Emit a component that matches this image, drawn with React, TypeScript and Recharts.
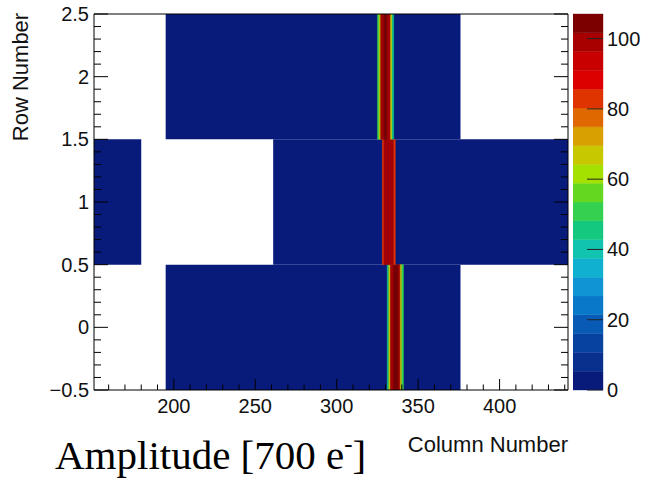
import { ComposedChart, XAxis, YAxis, ReferenceArea, Scatter } from 'recharts';

// pixel rows of the sensor, column ranges that read out (quiet level ~1)
const rows = [0, 1, 2];
const rowSpans: number[][][] = [
  [[195, 375]],
  [[151, 179], [261, 441]],
  [[195, 375]],
];
const quietValue = 1;

// the hit track, one list of amplitudes per row
const stripeStart = [331, 328, 325];
const stripeValues = [
  [45, 66, 97, 100, 104, 105, 103, 98, 68, 50],
  [83, 99, 101, 100, 100, 101, 99, 84],
  [52, 66, 97, 100, 103, 103, 100, 97, 67, 47],
];

const xDomain = [151, 442];
const yDomain = [-0.5, 2.5];
const xMajor = [200, 250, 300, 350, 400];
const zTicks = [0, 20, 40, 60, 80, 100];
const zMax = 107;

const palette = [
  '#081b7b', '#08308c', '#0842a0', '#085ab4', '#0a78c8',
  '#1094d4', '#10b0d0', '#10c4b0', '#14c880', '#34d050',
  '#64d820', '#a4e000', '#c8c800', '#d8a000', '#e06800',
  '#e03400', '#dc0000', '#c80000', '#a80000', '#7c0000',
];

const FONT = '"Liberation Sans", Arial, sans-serif';

const xTicks: number[] = [];
for (let v = 160; v <= 440; v += 10) xTicks.push(v);
const yTicks: number[] = [];
for (let i = 0; i <= 30; i++) yTicks.push(Math.round((-0.5 + i * 0.1) * 10) / 10);

const bandWidth = zMax / palette.length;
const levels = palette.map((_, i) => i * bandWidth).concat([zMax]);
const colorOf = (z: number) => palette[Math.max(0, Math.min(palette.length - 1, Math.floor(z / bandWidth)))];

const cells = rows.flatMap((r) =>
  stripeValues[r].map((z, i) => ({ col: stripeStart[r] + i, row: r, z }))
);

const isYMajor = (v: number) => Math.abs(v * 2 - Math.round(v * 2)) < 1e-6;
const fmtY = (v: number) => (v < 0 ? '\u2212' + Math.abs(v) : String(v));

const BottomTick = ({ x, payload }: any) => {
  const major = xMajor.includes(payload.value);
  return (
    <g>
      <line x1={x} y1={390} x2={x} y2={390 - (major ? 11 : 5.5)} stroke="#000" />
      {major && (
        <text x={x} y={413} textAnchor="middle" fontSize={20} fontFamily={FONT} fill="#111">
          {payload.value}
        </text>
      )}
    </g>
  );
};

const TopTick = ({ x, payload }: any) => {
  const major = xMajor.includes(payload.value);
  return <line x1={x} y1={14} x2={x} y2={14 + (major ? 11 : 5.5)} stroke="#000" />;
};

const LeftTick = ({ y, payload }: any) => {
  const major = isYMajor(payload.value);
  return (
    <g>
      <line x1={94} y1={y} x2={94 + (major ? 14 : 7)} y2={y} stroke="#000" />
      {major && (
        <text x={89} y={y + 7} textAnchor="end" fontSize={20} fontFamily={FONT} fill="#111">
          {fmtY(payload.value)}
        </text>
      )}
    </g>
  );
};

const RightTick = ({ y, payload }: any) => {
  const major = isYMajor(payload.value);
  return <line x1={568} y1={y} x2={568 - (major ? 14 : 7)} y2={y} stroke="#000" />;
};

const ZTick = ({ y, payload }: any) => (
  <g>
    <line x1={14} y1={y} x2={30} y2={y} stroke="#222" />
    <text x={34} y={y + 7} textAnchor="start" fontSize={20} fontFamily={FONT} fill="#111">
      {payload.value}
    </text>
  </g>
);

export default function App() {
  return (
    <div style={{ position: 'absolute', left: 0, top: 0, width: 645, height: 479, background: '#fff' }}>
      <div style={{ position: 'absolute', left: 0, top: 0 }}>
        <ComposedChart width={645} height={479} margin={{ top: 4, right: 67, bottom: 79, left: 84 }}>
          <XAxis
            xAxisId="b" type="number" dataKey="col" domain={xDomain} allowDataOverflow
            ticks={xTicks} interval={0} tick={<BottomTick />} tickLine={false}
            tickSize={0} tickMargin={0} height={10} stroke="#000"
          />
          <XAxis
            xAxisId="t" orientation="top" type="number" domain={xDomain} allowDataOverflow
            ticks={xTicks} interval={0} tick={<TopTick />} tickLine={false}
            tickSize={0} tickMargin={0} height={10} stroke="#000"
          />
          <YAxis
            yAxisId="l" type="number" dataKey="row" domain={yDomain} allowDataOverflow
            ticks={yTicks} interval={0} tick={<LeftTick />} tickLine={false}
            tickSize={0} tickMargin={0} width={10} stroke="#000"
          />
          <YAxis
            yAxisId="r" orientation="right" type="number" domain={yDomain} allowDataOverflow
            ticks={yTicks} interval={0} tick={<RightTick />} tickLine={false}
            tickSize={0} tickMargin={0} width={10} stroke="#000"
          />
          {rows.flatMap((r) =>
            rowSpans[r].map(([a, b], k) => (
              <ReferenceArea
                key={`span-${r}-${k}`} xAxisId="b" yAxisId="l"
                x1={a} x2={b + 1} y1={r - 0.5} y2={r + 0.5}
                fill={colorOf(quietValue)} fillOpacity={1} stroke="none" ifOverflow="hidden"
              />
            ))
          )}
          {cells.map((c, i) => (
            <ReferenceArea
              key={`cell-${i}`} xAxisId="b" yAxisId="l"
              x1={c.col} x2={c.col + 1} y1={c.row - 0.5} y2={c.row + 0.5}
              fill={colorOf(c.z)} fillOpacity={1} stroke={colorOf(c.z)} strokeWidth={0.4}
              ifOverflow="hidden"
            />
          ))}
          <Scatter
            xAxisId="b" yAxisId="l" data={cells} dataKey="row"
            isAnimationActive={false} shape={() => <g />}
          />
          <Scatter
            xAxisId="t" yAxisId="r" data={cells} dataKey="row"
            isAnimationActive={false} shape={() => <g />}
          />
        </ComposedChart>
      </div>
      <div style={{ position: 'absolute', left: 573, top: 0 }}>
        <ComposedChart width={72} height={479} margin={{ top: 14, right: 32, bottom: 89, left: 0 }}>
          <XAxis type="number" dataKey="x" domain={[0, 1]} height={0} tick={false} axisLine={false} tickLine={false} />
          <YAxis
            orientation="right" type="number" dataKey="y" domain={[0, zMax]} allowDataOverflow
            ticks={zTicks} interval={0} tick={<ZTick />} tickLine={false} axisLine={false}
            tickSize={0} tickMargin={0} width={10}
          />
          {palette.map((col, i) => (
            <ReferenceArea
              key={`band-${i}`} x1={0} x2={1} y1={levels[i]} y2={levels[i + 1]}
              fill={col} fillOpacity={1} stroke={col} strokeWidth={0.4}
            />
          ))}
          <Scatter data={levels.map((l) => ({ x: 0.5, y: l }))} dataKey="y" isAnimationActive={false} shape={() => <g />} />
        </ComposedChart>
      </div>
      <svg width={645} height={479} style={{ position: 'absolute', left: 0, top: 0, pointerEvents: 'none' }}>
        <text
          x={28} y={77} transform="rotate(-90, 28, 77)" textAnchor="middle"
          fontSize={22} fontFamily={FONT} fill="#111"
        >
          Row Number
        </text>
        <text x={568} y={452} textAnchor="end" fontSize={22} fontFamily={FONT} fill="#111">
          Column Number
        </text>
        <text x={55} y={469} fontSize={41} fontFamily='"Liberation Serif", "Times New Roman", serif' fill="#000">
          Amplitude [700 e
          <tspan dy={-17} fontSize={25}>-</tspan>
          <tspan dy={17}>]</tspan>
        </text>
      </svg>
    </div>
  );
}
